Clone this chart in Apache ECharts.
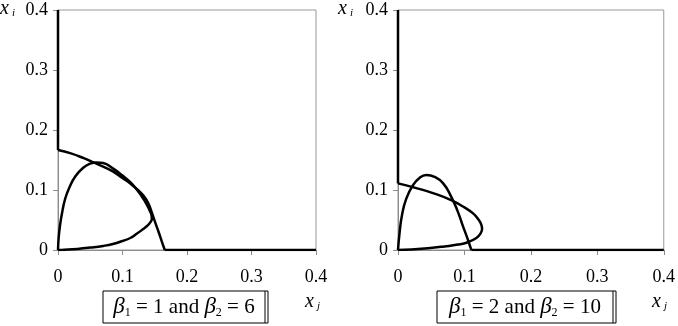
<!DOCTYPE html>
<html>
<head>
<meta charset="utf-8">
<script src="https://cdn.jsdelivr.net/npm/echarts@6/dist/echarts.min.js"></script>
<style>
  html, body { margin: 0; padding: 0; background: #fff; }
  #chart { width: 678px; height: 326px; }
</style>
</head>
<body>
<div id="chart"></div>
<script>
const AXIS_TICKS = [0, 0.1, 0.2, 0.3, 0.4];

// left panel: beta1 = 1, beta2 = 6
const leftCurveP = [
  [0, 0.1667], [0.02, 0.161], [0.04, 0.153], [0.055, 0.146], [0.07, 0.139],
  [0.085, 0.131], [0.10, 0.120], [0.113, 0.110], [0.124, 0.100], [0.133, 0.090],
  [0.140, 0.078], [0.145, 0.064], [0.150, 0.048], [0.156, 0.030], [0.161, 0.014],
  [0.1655, 0],
];
const leftCurveQ = [
  [0, 0], [0.001, 0.02], [0.003, 0.04], [0.006, 0.06], [0.011, 0.085],
  [0.018, 0.105], [0.027, 0.123], [0.039, 0.137], [0.05, 0.144], [0.06, 0.146],
  [0.07, 0.145], [0.085, 0.136], [0.10, 0.124], [0.112, 0.113], [0.122, 0.101],
  [0.130, 0.089], [0.137, 0.077], [0.142, 0.066], [0.145, 0.058], [0.1455, 0.052],
  [0.143, 0.046], [0.138, 0.040], [0.131, 0.034], [0.122, 0.027], [0.112, 0.020],
  [0.100, 0.015], [0.085, 0.010], [0.070, 0.0068], [0.050, 0.004], [0.030, 0.0018],
  [0.010, 0.0004], [0, 0],
];
const leftEdges = [
  [[0, 0.4], [0, 0.1667]],
  [[0.1655, 0], [0.4, 0]],
];

// right panel: beta1 = 2, beta2 = 10
const rightCurveP = [
  [0, 0.111], [0.025, 0.104], [0.055, 0.094], [0.080, 0.083], [0.100, 0.071],
  [0.113, 0.061], [0.121, 0.051], [0.1255, 0.042], [0.1265, 0.035], [0.124, 0.027],
  [0.118, 0.020], [0.105, 0.013], [0.090, 0.009], [0.070, 0.006], [0.045, 0.003],
  [0.020, 0.001], [0, 0],
];
const rightCurveQ = [
  [0, 0], [0.0026, 0.031], [0.006, 0.058], [0.0126, 0.086], [0.0226, 0.108],
  [0.0327, 0.1206], [0.0427, 0.125], [0.055, 0.122], [0.068, 0.111], [0.080, 0.089],
  [0.090, 0.064], [0.098, 0.039], [0.1045, 0.0195], [0.1095, 0.003], [0.1105, 0],
];
const rightEdges = [
  [[0, 0.4], [0, 0.111]],
  [[0.1105, 0], [0.4, 0]],
];

const panelLabels = [
  { b1: "1", b2: "6" },
  { b1: "2", b2: "10" },
];

const FONT = "Liberation Serif, Times New Roman, serif";
const GRAY = "#8c8c8c";

const chart = echarts.init(document.getElementById("chart"), null, { renderer: "canvas" });

function axisBase(gridIndex, margin) {
  return {
    gridIndex,
    type: "value",
    min: AXIS_TICKS[0],
    max: AXIS_TICKS[AXIS_TICKS.length - 1],
    interval: 0.1,
    axisLine: { show: true, onZero: false, lineStyle: { color: GRAY, width: 1 } },
    axisTick: { show: true, inside: false, length: 5, lineStyle: { color: GRAY } },
    splitLine: { show: false },
    axisLabel: { color: "#000", fontFamily: FONT, fontSize: 18, margin },
  };
}

function curve(data, xi, smooth) {
  return {
    type: "line",
    xAxisIndex: xi,
    yAxisIndex: xi,
    data,
    smooth,
    showSymbol: false,
    symbol: "none",
    lineStyle: { color: "#000", width: 2.5 },
    silent: true,
    animation: false,
  };
}

function boxText(p, left, right) {
  const rich = {
    g: { fontFamily: FONT, fontStyle: "italic", fontSize: 23, fill: "#000" },
    s: { fontFamily: FONT, fontSize: 12, fill: "#000", padding: [11, 0, 0, 0] },
    n: { fontFamily: FONT, fontSize: 21, fill: "#000" },
  };
  const w = right - left;
  return [
    {
      type: "rect",
      shape: { x: left, y: 291, width: w, height: 32 },
      style: { fill: "#fff", stroke: "#000", lineWidth: 1 },
      silent: true,
    },
    {
      type: "line",
      shape: { x1: right - 3, y1: 291, x2: right - 3, y2: 323 },
      style: { stroke: "#000", lineWidth: 1 },
      silent: true,
    },
    {
      type: "text",
      x: left + (w - 3) / 2,
      y: 307,
      style: {
        text: `{g|β}{s|1}{n| = ${p.b1} and }{g|β}{s|2}{n| = ${p.b2}}`,
        rich,
        align: "center",
        verticalAlign: "middle",
      },
      silent: true,
    },
  ];
}

function axisName(x, y, main, sub) {
  return {
    type: "text",
    x,
    y,
    style: {
      text: `{m|${main}}{s|${sub}}`,
      rich: {
        m: { fontFamily: FONT, fontStyle: "italic", fontSize: 20, fill: "#000" },
        s: { fontFamily: FONT, fontStyle: "italic", fontSize: 11, fill: "#000", padding: [8, 0, 0, 3] },
      },
      verticalAlign: "top",
    },
    silent: true,
  };
}

chart.setOption({
  animation: false,
  grid: [
    { left: 58, right: 362, top: 10, bottom: 76, show: true, borderColor: "#999", borderWidth: 1 },
    { left: 398, right: 14, top: 10, bottom: 76, show: true, borderColor: "#999", borderWidth: 1 },
  ],
  xAxis: [axisBase(0, 18), axisBase(1, 18)],
  yAxis: [axisBase(0, 10), axisBase(1, 10)],
  series: [
    curve(leftCurveP, 0, 0.5),
    curve(leftCurveQ, 0, 0.5),
    ...leftEdges.map((d) => curve(d, 0, false)),
    curve(rightCurveP, 1, 0.5),
    curve(rightCurveQ, 1, 0.5),
    ...rightEdges.map((d) => curve(d, 1, false)),
  ],
  graphic: [
    axisName(0, -1, "x", "i"),
    axisName(338, -1, "x", "i"),
    axisName(305, 292, "x", "j"),
    axisName(652, 292, "x", "j"),
    ...boxText(panelLabels[0], 103, 268),
    ...boxText(panelLabels[1], 437, 616),
  ],
});
</script>
</body>
</html>
